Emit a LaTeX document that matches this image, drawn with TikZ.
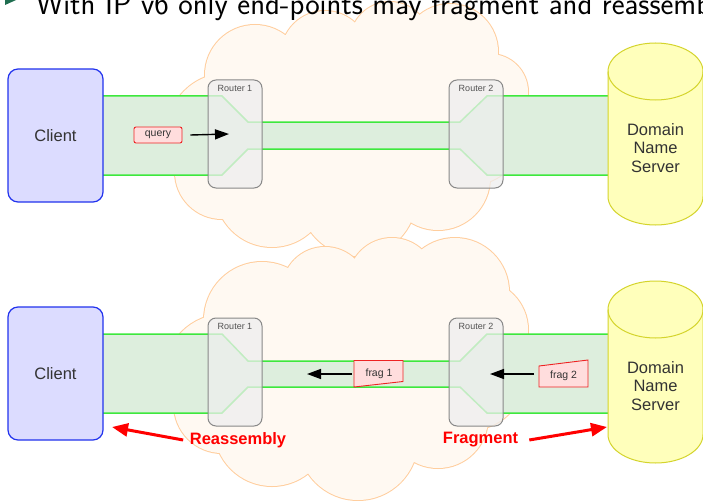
\documentclass[tikz,border=0pt]{standalone}
\usepackage{fontspec}
\setmainfont{Liberation Sans}
\usetikzlibrary{arrows.meta,calc}
\definecolor{cloudfill}{HTML}{FFF9F2}
\definecolor{cloudline}{HTML}{FFCE9E}
\definecolor{pipefill}{HTML}{DDEEDD}
\definecolor{pipeline}{HTML}{3DE83D}
\definecolor{routerfill}{HTML}{EEEEEE}
\definecolor{routerline}{HTML}{888888}
\definecolor{clientfill}{HTML}{DCDCFF}
\definecolor{clientline}{HTML}{2233EE}
\definecolor{serverfill}{HTML}{FFFFBB}
\definecolor{serverline}{HTML}{D4D42C}
\definecolor{pktfill}{HTML}{FFDDDD}
\definecolor{pktline}{HTML}{EE2222}
\definecolor{txtgray}{HTML}{333333}
\definecolor{bulletgreen}{HTML}{1F6E50}
\newcommand{\cloudTop}[1]{\path[#1] (255,75) circle[radius=50] (325,55) circle[radius=44] (390,42) circle[radius=40] (450,52) circle[radius=48] (490,92) circle[radius=38] (470,130) circle[radius=55] (438,178) circle[radius=52] (358,198) circle[radius=58] (272,190) circle[radius=57] (222,172) circle[radius=47] (228,135) circle[radius=62] (355,120) circle[radius=90];}
\newcommand{\cloudBot}[1]{\path[#1] (262,320) circle[radius=58] (325,290) circle[radius=43] (392,282) circle[radius=44] (455,292) circle[radius=54] (478,330) circle[radius=50] (470,375) circle[radius=55] (438,418) circle[radius=50] (358,440) circle[radius=60] (272,428) circle[radius=58] (222,405) circle[radius=48] (225,375) circle[radius=61] (355,365) circle[radius=95];}
\tikzset{
  client/.style={draw=clientline, fill=clientfill, rounded corners=10pt, line width=1.2pt, minimum width=95pt, minimum height=133pt, inner sep=0pt, text=txtgray, font=\fontsize{16.5}{19}\selectfont},
  routerbox/.style={draw=routerline, fill=routerfill, fill opacity=0.75, rounded corners=8pt, line width=1pt, minimum width=54pt, minimum height=108pt, inner sep=0pt},
  rlabel/.style={text=txtgray!85, font=\fontsize{9}{10}\selectfont, inner sep=0pt},
  srvtext/.style={align=center, text=txtgray, font=\fontsize{16.5}{18.5}\selectfont, inner sep=0pt},
  srvbody/.style={fill=serverfill, draw=serverline, line width=1pt},
  pkt/.style={draw=pktline, fill=pktfill, rounded corners=2pt, minimum width=48pt, minimum height=16pt, inner sep=0pt, line width=0.9pt, text=txtgray, font=\fontsize{10.5}{12}\selectfont},
  pktshape/.style={draw=pktline, fill=pktfill, line width=0.9pt},
  pktlabel/.style={text=txtgray, font=\fontsize{10.5}{12}\selectfont, inner sep=0pt},
  pipearea/.style={fill=pipefill},
  pipeedge/.style={draw=pipeline, line width=1.5pt},
  blk/.style={draw=black, line width=1.4pt, -{Triangle[length=14pt,width=10pt]}},
  redarr/.style={draw=red, line width=3pt, -{Triangle[length=16pt,width=13pt]}},
  alertlbl/.style={text=red, font=\bfseries\fontsize{16.5}{19}\selectfont, inner sep=0pt},
}
\begin{document}
\begin{tikzpicture}[x=1pt,y=-1pt]
\useasboundingbox (0,0) rectangle (703,500);
\clip (0,0) rectangle (703,500);
\fill[white] (0,0) rectangle (703,500);
% clouds
\cloudTop{draw=cloudline, line width=2pt}
\cloudTop{fill=cloudfill}
\cloudBot{draw=cloudline, line width=2pt}
\cloudBot{fill=cloudfill}
% header
\fill[bulletgreen] (5,-13) -- (25,-4) -- (5,5) -- cycle;
\node[anchor=base west, inner sep=0pt, font=\sffamily\fontsize{30.7}{36}\selectfont] (hdr) at (36,15) {With IP v6 only end-points may fragment and reassemble};
% ---------- top row ----------
\fill[pipearea] (103,96) -- (222,96) -- (248,122) -- (460,122) -- (487,96) -- (608,96) -- (608,175) -- (487,175) -- (460,149) -- (248,149) -- (222,175) -- (103,175) -- cycle;
\draw[pipeedge] (103,96) -- (222,96) -- (248,122) -- (460,122) -- (487,96) -- (608,96);
\draw[pipeedge] (103,175) -- (222,175) -- (248,149) -- (460,149) -- (487,175) -- (608,175);
\node[routerbox] (r1) at (235,134) {};
\node[routerbox] (r2) at (476,134) {};
\node[rlabel] (r1l) at ($(r1.north)+(0,9)$) {Router 1};
\node[rlabel] (r2l) at ($(r2.north)+(0,9)$) {Router 2};
\node[client] (c1) at (55.5,135.5) {Client};
\path[srvbody] (608,71.5) -- (608,196.5) arc[start angle=180,end angle=0,x radius=47.5,y radius=28.5] -- (703,71.5) arc[start angle=0,end angle=-180,x radius=47.5,y radius=28.5] -- cycle;
\draw[serverline, line width=1pt] (608,71.5) arc[start angle=180,end angle=0,x radius=47.5,y radius=28.5];
\node[srvtext] (s1) at (655.5,148) {Domain\\Name\\Server};
\node[pkt] (q) at (158,135) {query};
\draw[blk] ([xshift=8pt]q.east) -- ([xshift=-6pt]r1.center);
% ---------- bottom row ----------
\fill[pipearea] (103,334) -- (222,334) -- (248,361) -- (460,361) -- (487,334) -- (608,334) -- (608,413) -- (487,413) -- (460,387) -- (248,387) -- (222,413) -- (103,413) -- cycle;
\draw[pipeedge] (103,334) -- (222,334) -- (248,361) -- (460,361) -- (487,334) -- (608,334);
\draw[pipeedge] (103,413) -- (222,413) -- (248,387) -- (460,387) -- (487,413) -- (608,413);
\node[routerbox] (r3) at (235,372) {};
\node[routerbox] (r4) at (476,372) {};
\node[rlabel] (r3l) at ($(r3.north)+(0,9)$) {Router 1};
\node[rlabel] (r4l) at ($(r4.north)+(0,9)$) {Router 2};
\node[client] (c2) at (55.5,373.5) {Client};
\path[srvbody] (608,309.5) -- (608,434.5) arc[start angle=180,end angle=0,x radius=47.5,y radius=28.5] -- (703,309.5) arc[start angle=0,end angle=-180,x radius=47.5,y radius=28.5] -- cycle;
\draw[serverline, line width=1pt] (608,309.5) arc[start angle=180,end angle=0,x radius=47.5,y radius=28.5];
\node[srvtext] (s2) at (655.5,386) {Domain\\Name\\Server};
% fragments
\draw[pktshape] (354,360.5) -- (403,360.5) -- (403,381.5) -- (354,387) -- cycle;
\node[pktlabel] (f1) at (379,373.5) {frag 1};
\draw[pktshape] (539,366) -- (588,360) -- (588,387) -- (539,387) -- cycle;
\node[pktlabel] (f2) at (563.5,375.5) {frag 2};
\coordinate (f1tip) at (307,374);
\draw[blk] (352,374) -- (f1tip);
\draw[blk] (534,374) -- ([xshift=14pt]r4.center |- f1tip);
% red labels
\node[alertlbl] (ra) at (238,440) {Reassembly};
\node[alertlbl] (fr) at (480.5,440) {Fragment};
\coordinate (c2tip) at (112,427);
\coordinate (s2tip) at (607,427);
\draw[redarr] ([xshift=-6.5pt]ra.west) -- (c2tip);
\draw[redarr] ([xshift=11pt]fr.east) -- (s2tip);
\end{tikzpicture}
\end{document}
